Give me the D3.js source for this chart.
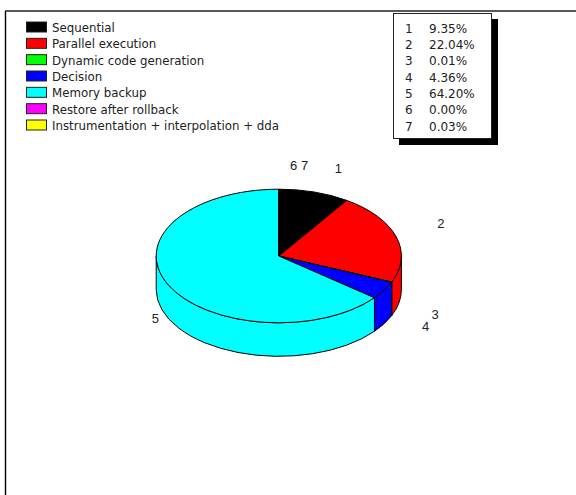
<!DOCTYPE html>
<html><head><meta charset="utf-8">
<style>html,body{margin:0;padding:0;background:#fff}svg{display:block}</style>
<script src="https://cdn.jsdelivr.net/npm/d3@7"></script></head>
<body><svg id="c" width="576" height="495"></svg>
<script>
const categories = ["Sequential","Parallel execution","Dynamic code generation","Decision","Memory backup","Restore after rollback","Instrumentation + interpolation + dda"];
const sliceIds = ["1","2","3","4","5","6","7"];
const percentages = [9.35,22.04,0.01,4.36,64.20,0.00,0.03];
const colors = ["#000000","#ff0000","#00ff00","#0000ff","#00ffff","#ff00ff","#ffff00"];

// layout
const cx=278.8, cy=256, rx=122.6, ry=66.8, depth=33.5;
const labelNudge=[[24,-22.5],[44.5,-12.5],[43.5,33.5],[41.5,37.5],[-13,34.5],[15,-23],[26,-23]];
const legendFont="Tahoma, 'DejaVu Sans', sans-serif";

const svg=d3.select("#c");
svg.append("path").attr("d","M5.5,495V11").attr("fill","none").attr("stroke","#000").attr("stroke-width",1.4);
svg.append("path").attr("d","M5,11H576").attr("fill","none").attr("stroke","#222").attr("stroke-width",1.4);

// legend
const rowY=d3.scaleLinear().domain([0,6]).range([27,125]);
const leg=svg.append("g").selectAll("g").data(categories).join("g").attr("transform",(d,i)=>`translate(0,${rowY(i)})`);
leg.append("rect").attr("x",26.5).attr("y",-5).attr("width",20).attr("height",10).attr("fill",(d,i)=>colors[i]).attr("stroke","#222").attr("stroke-width",1);
leg.append("text").attr("x",52).attr("y",5).text(d=>d).attr("font-family",legendFont).attr("font-size",11.8).attr("fill","#222");

// data table
svg.append("rect").attr("x",399).attr("y",19).attr("width",99).attr("height",126).attr("fill","#000");
svg.append("rect").attr("x",393.5).attr("y",13.5).attr("width",98).attr("height",125).attr("fill","#fff").attr("stroke","#222");
const tab=svg.append("g").selectAll("g").data(percentages).join("g").attr("transform",(d,i)=>`translate(0,${rowY(i)+5.7})`);
const tt=(s)=>s.attr("font-family",legendFont).attr("font-size",12).attr("fill","#222");
tab.append("text").attr("x",405).text((d,i)=>sliceIds[i]).call(tt);
tab.append("text").attr("x",429).text(d=>d.toFixed(2)+"%").call(tt);

// pie
const pie=d3.pie().sort(null).value(d=>d)(percentages);
const px=a=>cx+rx*Math.sin(a), py=(a,o=0)=>cy-ry*Math.cos(a)+o;
const g=svg.append("g");
const HALF=Math.PI/2, END=3*Math.PI/2;
// sides (only the front half of the rim is visible)
const sides=pie.map(d=>({d,a0:Math.max(d.startAngle,HALF),a1:Math.min(d.endAngle,END)})).filter(s=>s.a1>s.a0);
g.selectAll("path.side").data(sides).join("path").attr("class","side")
 .attr("d",s=>`M${px(s.a0)},${py(s.a0)}L${px(s.a0)},${py(s.a0,depth)}A${rx},${ry} 0 0 1 ${px(s.a1)},${py(s.a1,depth)}L${px(s.a1)},${py(s.a1)}A${rx},${ry} 0 0 0 ${px(s.a0)},${py(s.a0)}Z`)
 .attr("fill",s=>colors[s.d.index]).attr("stroke","#000").attr("stroke-width",1).attr("stroke-linejoin","round");
// top face
const arc=d3.arc().innerRadius(0).outerRadius(rx);
g.append("g").attr("transform",`translate(${cx},${cy}) scale(1,${ry/rx})`)
 .selectAll("path").data(pie).join("path").attr("d",arc).attr("fill",(d,i)=>colors[i])
 .attr("stroke","#000").attr("stroke-width",1).attr("vector-effect","non-scaling-stroke").attr("stroke-linejoin","round");
// labels
svg.append("g").selectAll("text").data(pie).join("text")
 .attr("x",(d,i)=>px((d.startAngle+d.endAngle)/2)+labelNudge[i][0])
 .attr("y",(d,i)=>py((d.startAngle+d.endAngle)/2)+labelNudge[i][1])
 .attr("text-anchor","middle").attr("dominant-baseline","middle")
 .attr("font-family","'Liberation Sans',Arial,sans-serif").attr("font-size",13).attr("fill","#222")
 .text((d,i)=>sliceIds[i]);
</script></body></html>
